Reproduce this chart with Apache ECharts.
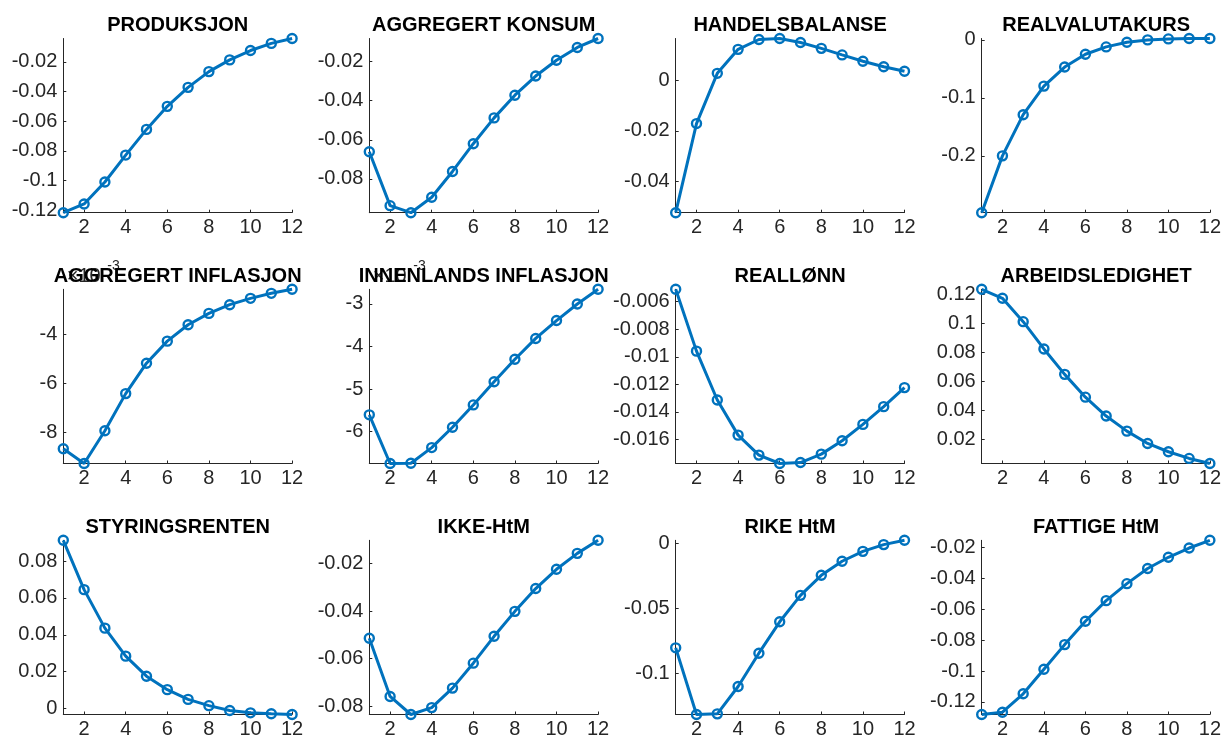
<!DOCTYPE html>
<html>
<head>
<meta charset="utf-8">
<title>Impulsresponser</title>
<script src="https://cdn.jsdelivr.net/npm/echarts@6/dist/echarts.min.js"></script>
<style>
  html, body { margin: 0; padding: 0; background: #fff; }
  #chart { width: 1224px; height: 742px; }
</style>
</head>
<body>
<div id="chart"></div>
<script>
// Quarters after the shock
const periods = [1, 2, 3, 4, 5, 6, 7, 8, 9, 10, 11, 12];

// Panel titles, row by row
const titles = [
  'PRODUKSJON', 'AGGREGERT KONSUM', 'HANDELSBALANSE', 'REALVALUTAKURS',
  'AGGREGERT INFLASJON', 'INNENLANDS INFLASJON', 'REALLØNN', 'ARBEIDSLEDIGHET',
  'STYRINGSRENTEN', 'IKKE-HtM', 'RIKE HtM', 'FATTIGE HtM'
];

// Impulse responses
const produksjon = [-0.1216, -0.1157, -0.1009, -0.0828, -0.0655, -0.0500, -0.0372, -0.0266, -0.0187, -0.0124, -0.0076, -0.0043];
const konsum = [-0.0661, -0.0937, -0.0973, -0.0894, -0.0762, -0.0620, -0.0488, -0.0372, -0.0274, -0.0193, -0.0128, -0.0082];
const handelsbalanse = [-0.0524, -0.0171, 0.0028, 0.0123, 0.0162, 0.0166, 0.0150, 0.0127, 0.0101, 0.0076, 0.0054, 0.0036];
const realvalutakurs = [-0.298, -0.200, -0.129, -0.0797, -0.0468, -0.0248, -0.0121, -0.0040, 0.0000, 0.0017, 0.0024, 0.0024];
const aggInflasjon = [-0.008653, -0.009252, -0.007918, -0.006408, -0.005170, -0.004272, -0.003605, -0.003143, -0.002789, -0.002531, -0.002327, -0.002163];
const innInflasjon = [-0.005606, -0.006750, -0.006744, -0.006376, -0.005898, -0.005373, -0.004830, -0.004300, -0.003810, -0.003390, -0.003000, -0.002655];
const realLonn = [-0.00510, -0.00959, -0.01314, -0.01569, -0.01714, -0.01775, -0.01768, -0.01707, -0.01610, -0.01491, -0.01362, -0.01224];
const arbeidsledighet = [0.1234, 0.1172, 0.1011, 0.0823, 0.0648, 0.0491, 0.0361, 0.0257, 0.0172, 0.0115, 0.0069, 0.0034];
const styringsrenten = [0.0913, 0.0645, 0.0436, 0.0284, 0.0175, 0.0102, 0.0049, 0.0015, -0.0011, -0.0024, -0.0029, -0.0033];
const ikkeHtM = [-0.0514, -0.0759, -0.0835, -0.0806, -0.0724, -0.0619, -0.0506, -0.0401, -0.0305, -0.0224, -0.0157, -0.0102];
const rikeHtM = [-0.0803, -0.1315, -0.1310, -0.1100, -0.0844, -0.0603, -0.0400, -0.0246, -0.0138, -0.0062, -0.0010, 0.0023];
const fattigeHtM = [-0.1282, -0.1267, -0.1148, -0.0989, -0.0829, -0.0678, -0.0544, -0.0434, -0.0336, -0.0263, -0.0203, -0.0153];

// Tick values
const xTicks = [2, 4, 6, 8, 10, 12];
const yTicks = [
  [-0.12, -0.1, -0.08, -0.06, -0.04, -0.02],
  [-0.08, -0.06, -0.04, -0.02],
  [-0.04, -0.02, 0],
  [-0.2, -0.1, 0],
  [-0.008, -0.006, -0.004],
  [-0.006, -0.005, -0.004, -0.003],
  [-0.016, -0.014, -0.012, -0.01, -0.008, -0.006],
  [0.02, 0.04, 0.06, 0.08, 0.1, 0.12],
  [0, 0.02, 0.04, 0.06, 0.08],
  [-0.08, -0.06, -0.04, -0.02],
  [-0.1, -0.05, 0],
  [-0.12, -0.1, -0.08, -0.06, -0.04, -0.02]
];
// Panels whose tick labels are shown in units of 10^-3
const scaledPanels = [4, 5];

const seriesData = [
  produksjon, konsum, handelsbalanse, realvalutakurs,
  aggInflasjon, innInflasjon, realLonn, arbeidsledighet,
  styringsrenten, ikkeHtM, rikeHtM, fattigeHtM
];

// Layout of the 3 x 4 subplot grid (pixels)
const colLeft = [63.3, 369.3, 675.7, 981.7];
const rowTop = [38.5, 289.3, 540.3];
const plotW = 228.8;
const plotH = 174.2;

const FONT = 'Liberation Sans, Arial, Helvetica, sans-serif';
const AX = '#262626';
const BLUE = '#0072BD';

function fmt(v, scale) {
  const s = scale ? v * 1000 : v;
  return String(parseFloat(s.toPrecision(8)));
}

const option = {
  animation: false,
  backgroundColor: '#ffffff',
  grid: [], xAxis: [], yAxis: [], series: [], graphic: []
};

seriesData.forEach((vals, i) => {
  const r = Math.floor(i / 4), c = i % 4;
  const left = colLeft[c], top = rowTop[r];
  const scaled = scaledPanels.indexOf(i) >= 0;
  const lo = Math.min.apply(null, vals), hi = Math.max.apply(null, vals);

  option.grid.push({ left: left, top: top, width: plotW, height: plotH, containLabel: false });

  option.xAxis.push({
    gridIndex: i, type: 'value', min: 1, max: 12,
    axisLine: { show: true, onZero: false, lineStyle: { color: AX, width: 1 } },
    axisTick: { show: true, inside: true, length: 3, customValues: xTicks, lineStyle: { color: AX, width: 1 } },
    axisLabel: { customValues: xTicks, color: AX, fontSize: 20, fontFamily: FONT, margin: 5 },
    splitLine: { show: false }
  });

  option.yAxis.push({
    gridIndex: i, type: 'value', min: lo, max: hi,
    axisLine: { show: true, onZero: false, lineStyle: { color: AX, width: 1 } },
    axisTick: { show: true, inside: true, length: 3, customValues: yTicks[i], lineStyle: { color: AX, width: 1 } },
    axisLabel: {
      customValues: yTicks[i], color: AX, fontSize: 20, fontFamily: FONT, margin: 6,
      formatter: v => fmt(v, scaled)
    },
    splitLine: { show: false }
  });

  option.series.push({
    type: 'line', xAxisIndex: i, yAxisIndex: i,
    data: periods.map((p, k) => [p, vals[k]]),
    clip: false,
    symbol: 'circle', symbolSize: 9,
    lineStyle: { color: BLUE, width: 3 },
    itemStyle: { color: 'rgba(255,255,255,0)', borderColor: BLUE, borderWidth: 2.4 },
    emphasis: { disabled: true }
  });

  // Panel title
  option.graphic.push({
    type: 'text', z: 10,
    style: {
      text: titles[i], x: left + plotW / 2, y: top - 13,
      align: 'center', verticalAlign: 'middle',
      font: 'bold 20px ' + FONT, fill: '#000000'
    }
  });

  // Axis exponent for the scaled panels
  if (scaled) {
    option.graphic.push({
      type: 'text', z: 1,
      style: { text: '×10', x: left + 3.5, y: top - 3, align: 'left', verticalAlign: 'bottom',
               font: '20px ' + FONT, fill: AX }
    });
    option.graphic.push({
      type: 'text', z: 1,
      style: { text: '-3', x: left + 44, y: top - 16, align: 'left', verticalAlign: 'bottom',
               font: '14px ' + FONT, fill: AX }
    });
  }
});

const chart = echarts.init(document.getElementById('chart'), null, { renderer: 'canvas' });
chart.setOption(option);
</script>
</body>
</html>
